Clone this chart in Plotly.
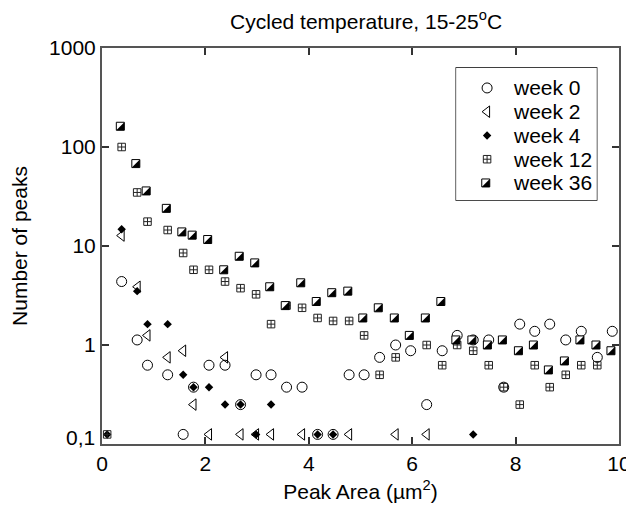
import plotly.graph_objects as go

# ---------------- data ----------------
x_week0 = [0.38, 0.68, 0.88, 1.27, 1.57, 1.77, 2.07, 2.38, 2.68, 2.98, 3.27, 3.57, 3.87, 4.17, 4.47,
           4.78, 5.07, 5.37, 5.68, 5.97, 6.28, 6.58, 6.87, 7.18, 7.48, 7.77, 8.08, 8.37, 8.66, 8.97,
           9.27, 9.58, 9.87]
y_week0 = [4.375, 1.125, 0.625, 0.5, 0.125, 0.375, 0.625, 0.625, 0.25, 0.5, 0.5, 0.375, 0.375, 0.125,
           0.125, 0.5, 0.5, 0.75, 1.0, 0.875, 0.25, 0.875, 1.25, 1.125, 1.125, 0.375, 1.625, 1.375,
           1.625, 1.125, 1.375, 0.75, 1.375]

x_week2 = [0.38, 0.69, 0.88, 1.27, 1.57, 1.77, 2.07, 2.38, 2.68, 2.98, 3.27, 3.87, 4.78, 5.68, 6.28]
y_week2 = [12.75, 3.875, 1.25, 0.75, 0.875, 0.25, 0.125, 0.75, 0.125, 0.125, 0.125, 0.125, 0.125,
           0.125, 0.125]

x_week4 = [0.1, 0.38, 0.68, 0.88, 1.27, 1.57, 1.77, 2.07, 2.38, 2.68, 2.98, 3.27, 4.17, 4.47, 7.18]
y_week4 = [0.125, 14.75, 3.5, 1.625, 1.625, 0.5, 0.375, 0.375, 0.25, 0.25, 0.125, 0.25, 0.125, 0.125,
           0.125]

x_week12 = [0.1, 0.38, 0.68, 0.88, 1.27, 1.57, 1.77, 2.07, 2.38, 2.68, 2.98, 3.27, 3.57, 3.87, 4.17,
            4.47, 4.78, 5.07, 5.37, 5.68, 6.28, 6.58, 6.87, 7.18, 7.48, 7.77, 8.08, 8.37, 8.66, 8.97,
            9.27, 9.58]
y_week12 = [0.125, 100, 34.75, 17.625, 14.5, 8.5, 5.75, 5.75, 4.375, 3.75, 3.25, 1.625, 2.5, 2.375,
            1.875, 1.75, 1.75, 1.25, 0.5, 0.75, 1.0, 0.625, 1.0, 0.875, 0.625, 0.375, 0.25, 0.625,
            0.375, 0.5, 0.625, 0.625]

x_week36 = [0.38, 0.68, 0.88, 1.27, 1.57, 1.77, 2.07, 2.38, 2.68, 2.98, 3.27, 3.57, 3.87, 4.17, 4.47,
            4.78, 5.07, 5.37, 5.68, 5.97, 6.28, 6.58, 6.87, 7.18, 7.48, 7.77, 8.08, 8.37, 8.66, 8.97,
            9.27, 9.58, 9.87]
y_week36 = [162, 68, 36, 24, 13.875, 12.875, 11.625, 5.75, 7.875, 6.75, 3.875, 2.5, 4.25, 2.75, 3.375,
            3.5, 1.875, 2.375, 1.875, 1.25, 1.875, 2.75, 1.125, 1.125, 1.0, 1.125, 0.875, 1.0, 0.56,
            0.69, 1.125, 1.0, 0.875]

series_names = ["week 0", "week 2", "week 4", "week 12", "week 36"]
series_x = [x_week0, x_week2, x_week4, x_week12, x_week36]
series_y = [y_week0, y_week2, y_week4, y_week12, y_week36]

y_tickvals = [0.1, 1, 10, 100, 1000]
y_ticktext = ["", "1", "10", "100", "1000"]
x_tickvals = [0, 2, 4, 6, 8, 10]

# ---------------- styles ----------------
FONT = "Liberation Sans, Arial, sans-serif"
FS = 21
SQ = 8.0
STYLES = {
    "week 0": [dict(symbol="circle-open", size=10, color="black", line=dict(width=1, color="black"))],
    "week 2": [dict(symbol="triangle-left-open", size=10, color="black", line=dict(width=1, color="black"))],
    "week 4": [dict(symbol="diamond", size=6.5, color="black", line=dict(width=0))],
    "week 12": [dict(symbol="square-cross-open", size=7.5, color="#222", line=dict(width=1, color="#222"))],
    "week 36": [
        dict(symbol="square", size=SQ, color="white", line=dict(width=1, color="black"),
             angle=90, standoff=SQ / 6),
        dict(symbol="triangle-se", size=SQ / 0.9, color="black", line=dict(width=0),
             angle=0, standoff=SQ / 6),
    ],
}

fig = go.Figure()

for name, xs, ys in zip(series_names, series_x, series_y):
    for st in STYLES[name]:
        fig.add_trace(go.Scatter(x=xs, y=ys, mode="markers", name=name, marker=st,
                                 showlegend=False, hoverinfo="x+y+name"))

# custom legend (symbols on an auxiliary axis, one row per series)
LEG_X0, LEG_X1, LEG_Y0, LEG_Y1 = 0.685, 0.957, 0.616, 0.9495
for i, name in enumerate(series_names):
    for st in STYLES[name]:
        fig.add_trace(go.Scatter(x=[0.22], y=[i], mode="markers", marker=st, xaxis="x2", yaxis="y2",
                                 showlegend=False, hoverinfo="skip"))
    fig.add_annotation(x=0.39, y=i, xref="x2", yref="y2", text=name, showarrow=False,
                       xanchor="left", yanchor="middle", font=dict(family=FONT, size=FS, color="black"))

fig.add_shape(type="rect", xref="paper", yref="paper", x0=LEG_X0, x1=LEG_X1, y0=LEG_Y0, y1=LEG_Y1,
              line=dict(color="black", width=1.3), layer="below")

# "0,1" label sits slightly above the bottom of the axis in the reference
fig.add_annotation(x=0, y=-1, xref="paper", yref="y", text="0,1", showarrow=False,
                   xanchor="right", yanchor="middle", xshift=-5, yshift=7,
                   font=dict(family=FONT, size=FS, color="black"))

axis_common = dict(showline=True, linecolor="#555", linewidth=2, mirror="ticks", ticks="inside",
                   ticklen=7, tickwidth=1.5, tickcolor="#333", showgrid=False, zeroline=False,
                   automargin=False, tickfont=dict(family=FONT, size=FS, color="black"))

# the page adds an 8 px body margin, so the figure is 8 px smaller than the window
fig.update_layout(
    width=626, height=501,
    margin=dict(l=94, r=15, t=40, b=65),
    paper_bgcolor="white", plot_bgcolor="white",
    font=dict(family=FONT, size=FS, color="black"),
    title=dict(text="Cycled temperature, 15-25<sup>o</sup>C", x=0.572, xref="container", xanchor="center",
               y=0.973, yref="container", yanchor="middle", automargin=False,
               font=dict(family=FONT, size=FS, color="black")),
    xaxis=dict(range=[0, 10], tickvals=x_tickvals, **axis_common,
               title=dict(text="Peak Area (µm<sup>2</sup>)", font=dict(family=FONT, size=FS), standoff=10)),
    yaxis=dict(type="log", range=[-1, 3], tickvals=y_tickvals, ticktext=y_ticktext, **axis_common,
               title=dict(text="Number of peaks", font=dict(family=FONT, size=FS), standoff=17)),
    xaxis2=dict(domain=[LEG_X0, LEG_X1], range=[0, 1], visible=False, anchor="y2", fixedrange=True),
    yaxis2=dict(domain=[LEG_Y0, LEG_Y1], range=[4.72, -0.84], visible=False, anchor="x2", fixedrange=True),
    showlegend=False,
)

fig.write_html("out.html")
